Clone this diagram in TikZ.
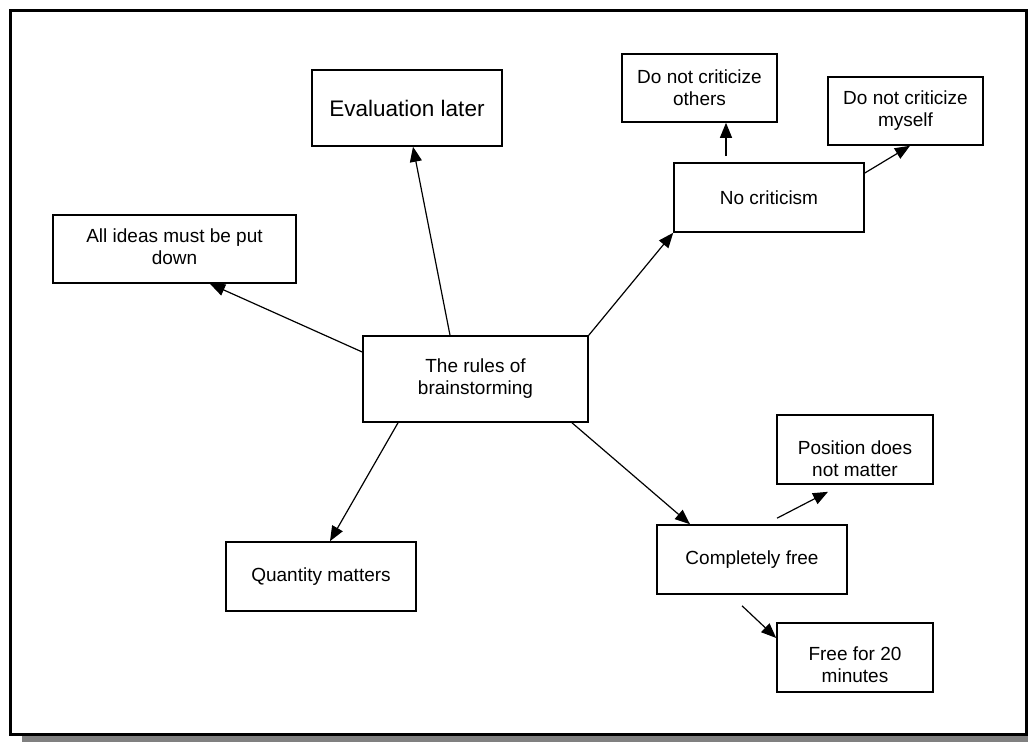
\documentclass[tikz,border=0pt]{standalone}
\usepackage{fontspec}
\setmainfont{Liberation Sans}
\usetikzlibrary{arrows.meta}

\tikzset{
  box/.style={draw=black, line width=1.6pt, fill=white, rectangle, inner sep=0pt},
  txt/.style={align=center, inner sep=0pt, font=\fontsize{19}{22}\selectfont},
  bigtxt/.style={align=center, inner sep=0pt, font=\fontsize{22.5}{26}\selectfont},
  link/.style={draw=black, line width=1.2pt, -{Triangle[length=15pt,width=12pt]}},
  frameline/.style={draw=black, line width=3pt, fill=white},
}

\begin{document}
\begin{tikzpicture}[x=1pt, y=1pt]
  \useasboundingbox (0,0) rectangle (1028,742);

  % page frame with its drop shadow
  \fill[black!50] (22,0) rectangle (1040,722);
  \path[frameline] (10.5,731.5) rectangle (1026,7.5);

  % boxes
  \node[box, minimum width=225pt, minimum height=86pt] (ctr)    at (475.5,363)   {};
  \node[box, minimum width=190pt, minimum height=76pt] (eval)   at (407,634)     {};
  \node[box, minimum width=243pt, minimum height=68pt] (ideas)  at (174.5,493)   {};
  \node[box, minimum width=190pt, minimum height=69pt] (qty)    at (321,165.5)   {};
  \node[box, minimum width=190pt, minimum height=69pt] (nocrit) at (769,544.5)   {};
  \node[box, minimum width=155pt, minimum height=68pt] (others) at (699.5,654)   {};
  \node[box, minimum width=155pt, minimum height=68pt] (myself) at (905.5,631)   {};
  \node[box, minimum width=190pt, minimum height=69pt] (free)   at (752,182.5)   {};
  \node[box, minimum width=156pt, minimum height=69pt] (pos)    at (855,292.5)   {};
  \node[box, minimum width=156pt, minimum height=69pt] (free20) at (855,84.5)    {};

  % box texts
  \node[txt]    (t-ctr)    at (ctr)                  {The rules of\\brainstorming};
  \node[bigtxt] (t-eval)   at (eval)                 {Evaluation later};
  \node[txt]    (t-ideas)  at ([yshift=2]ideas.center) {All ideas must be put\\down};
  \node[txt]    (t-qty)    at (qty)                  {Quantity matters};
  \node[txt]    (t-nocrit) at (nocrit)               {No criticism};
  \node[txt]    (t-others) at (others)               {Do not criticize\\others};
  \node[txt]    (t-myself) at (myself)               {Do not criticize\\myself};
  \node[txt]    (t-free)   at (free)                 {Completely free};
  \node[txt]    (t-pos)    at ([yshift=-9]pos.center)    {Position does\\not matter};
  \node[txt]    (t-free20) at ([yshift=-7]free20.center) {Free for 20\\minutes};

  % connectors
  \draw[link] ([yshift=27]ctr.west)     -- ([xshift=35.5]ideas.south);
  \draw[link] ([xshift=-25.5]ctr.north) -- ([xshift=6]eval.south);
  \draw[link] (ctr.north east)          -- (nocrit.south west);
  \draw[link] ([xshift=-77.5]ctr.south) -- ([xshift=9]qty.north);
  \draw[link] ([xshift=96.5]ctr.south)  -- ([xshift=-62]free.north);

  \draw[link] ([xshift=-43,yshift=6]nocrit.north) -- ([xshift=26.5]others.south);
  \draw[link] ([yshift=24.5]nocrit.east)          -- ([xshift=4.5]myself.south);

  \draw[link] ([xshift=25,yshift=6]free.north)    -- ([xshift=-27,yshift=-7]pos.south);
  \draw[link] ([xshift=-10,yshift=-11]free.south) -- ([yshift=19.5]free20.west);
\end{tikzpicture}
\end{document}
